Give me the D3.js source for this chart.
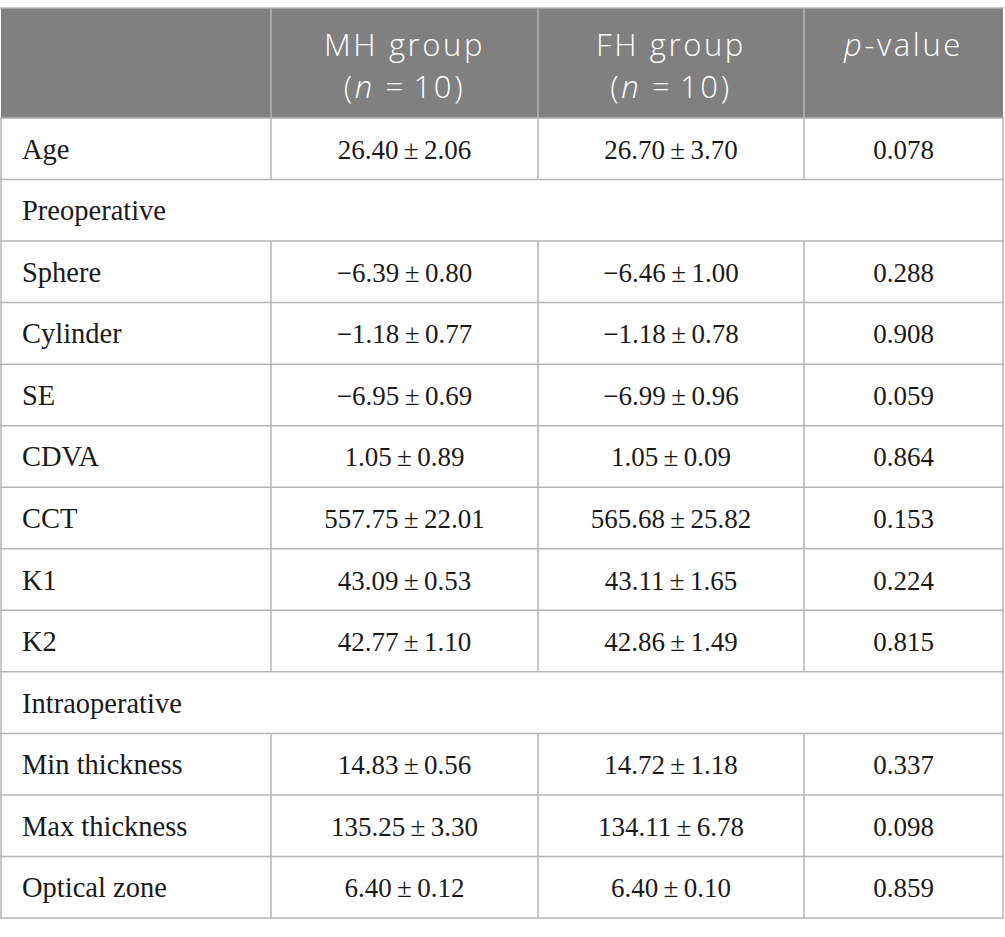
<!DOCTYPE html>
<html>
<head>
<meta charset="utf-8">
<script src="https://cdn.jsdelivr.net/npm/d3@7"></script>
<style>
  body { margin: 0; background: #fff; }
  .head { font-family: "Open Sans", sans-serif; fill: #fff; font-size: 31px; font-weight: 300; letter-spacing: 2.6px; }
  .cell { font-family: "Liberation Serif", serif; fill: #1a1a1a; font-size: 27px; }
  .cell.label { font-size: 28.5px; }
  .grid { stroke: #b5b5b5; stroke-width: 1.5; }
</style>
</head>
<body>
<div id="chart"></div>
<script>
// table content
var headers = [
  ["", ""],
  ["MH group", "(n = 10)"],
  ["FH group", "(n = 10)"],
  ["p-value", ""]
];
var rowLabels = ["Age", "Preoperative", "Sphere", "Cylinder", "SE", "CDVA", "CCT", "K1", "K2",
  "Intraoperative", "Min thickness", "Max thickness", "Optical zone"];
var sectionRows = ["Preoperative", "Intraoperative"];
var mhValues = ["26.40 ± 2.06", "", "−6.39 ± 0.80", "−1.18 ± 0.77", "−6.95 ± 0.69", "1.05 ± 0.89",
  "557.75 ± 22.01", "43.09 ± 0.53", "42.77 ± 1.10", "", "14.83 ± 0.56", "135.25 ± 3.30", "6.40 ± 0.12"];
var fhValues = ["26.70 ± 3.70", "", "−6.46 ± 1.00", "−1.18 ± 0.78", "−6.99 ± 0.96", "1.05 ± 0.09",
  "565.68 ± 25.82", "43.11 ± 1.65", "42.86 ± 1.49", "", "14.72 ± 1.18", "134.11 ± 6.78", "6.40 ± 0.10"];
var pValues = ["0.078", "", "0.288", "0.908", "0.059", "0.864", "0.153", "0.224", "0.815", "", "0.337", "0.098", "0.859"];

var width = 1005, height = 937;
var colEdges = [1, 271, 538, 804, 1003];
var headTop = 8, headBottom = 118, tableBottom = 918;

var svg = d3.select("#chart").append("svg")
  .attr("width", width)
  .attr("height", height);

var yScale = d3.scaleBand()
  .domain(d3.range(rowLabels.length))
  .range([headBottom, tableBottom]);

var colCenter = function(i) { return (colEdges[i] + colEdges[i + 1]) / 2; };

// header band
svg.append("rect")
  .attr("x", colEdges[0])
  .attr("y", headTop)
  .attr("width", colEdges[4] - colEdges[0])
  .attr("height", headBottom - headTop)
  .attr("fill", "#808080");

svg.append("line").attr("class", "grid")
  .attr("x1", 0).attr("x2", colEdges[4] + 1)
  .attr("y1", headTop).attr("y2", headTop);

// header dividers
svg.selectAll(".hdiv")
  .data(colEdges.slice(1, 4))
  .enter().append("line")
  .attr("class", "grid")
  .attr("x1", d => d).attr("x2", d => d)
  .attr("y1", headTop).attr("y2", headBottom);

// header text, italic for n and p
function headText(sel, str) {
  var m = str.match(/^(\(?)([np])(.*)$/);
  if (m) {
    sel.append("tspan").text(m[1]);
    sel.append("tspan").attr("font-style", "italic").text(m[2]);
    sel.append("tspan").text(m[3].replace("= ", "=\u2009"));
  } else {
    sel.text(str);
  }
}

headers.forEach(function(h, i) {
  if (!h[0]) return;
  var lines = [56, 98];
  [h[0], h[1]].forEach(function(str, k) {
    if (!str) return;
    var t = svg.append("text")
      .attr("class", "head")
      .attr("x", colCenter(i))
      .attr("y", lines[k])
      .attr("text-anchor", "middle");
    headText(t, str);
  });
});

// row lines
svg.selectAll(".rline")
  .data(d3.range(rowLabels.length + 1))
  .enter().append("line")
  .attr("class", "grid")
  .attr("x1", 0).attr("x2", colEdges[4] + 1)
  .attr("y1", d => d < rowLabels.length ? yScale(d) : tableBottom)
  .attr("y2", d => d < rowLabels.length ? yScale(d) : tableBottom);

// outer verticals
svg.selectAll(".outer")
  .data([colEdges[0], colEdges[4]])
  .enter().append("line")
  .attr("class", "grid")
  .attr("x1", d => d).attr("x2", d => d)
  .attr("y1", headBottom).attr("y2", tableBottom);

// inner verticals, skipping section rows
var rows = rowLabels.map((label, i) => ({
  label: label, i: i,
  section: sectionRows.indexOf(label) >= 0,
  vals: [mhValues[i], fhValues[i], pValues[i]]
}));

rows.filter(r => !r.section).forEach(function(r) {
  colEdges.slice(1, 4).forEach(function(x) {
    svg.append("line").attr("class", "grid")
      .attr("x1", x).attr("x2", x)
      .attr("y1", yScale(r.i)).attr("y2", yScale(r.i) + yScale.bandwidth());
  });
});

// row labels
svg.selectAll(".label")
  .data(rows)
  .enter().append("text")
  .attr("class", "cell label")
  .attr("x", 22)
  .attr("y", d => yScale(d.i) + yScale.bandwidth() / 2 + 10)
  .text(d => d.label);

// values
rows.filter(r => !r.section).forEach(function(r) {
  r.vals.forEach(function(v, k) {
    svg.append("text")
      .attr("class", "cell")
      .attr("x", colCenter(k + 1))
      .attr("y", yScale(r.i) + yScale.bandwidth() / 2 + 10)
      .attr("text-anchor", "middle")
      .text(v.replace(/ ± /, "\u2009±\u2009"));
  });
});
</script>
</body>
</html>
